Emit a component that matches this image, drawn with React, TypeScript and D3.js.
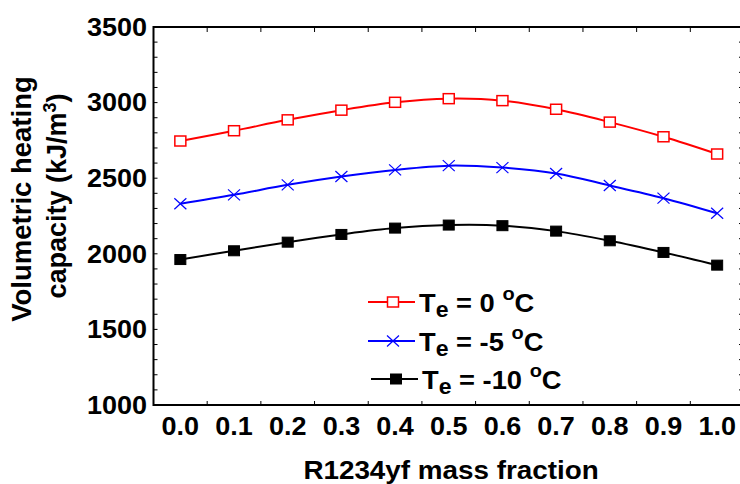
import React from "react";
import * as d3 from "d3";

const massFractions = [0.0, 0.1, 0.2, 0.3, 0.4, 0.5, 0.6, 0.7, 0.8, 0.9, 1.0];
const te0 = [2746, 2814, 2886, 2950, 3002, 3026, 3013, 2956, 2871, 2774, 2660];
const teM5 = [2331, 2390, 2456, 2511, 2555, 2583, 2570, 2531, 2452, 2368, 2268];
const teM10 = [1962, 2020, 2077, 2128, 2170, 2190, 2186, 2150, 2086, 2009, 1925];
const xTickLabels = ["0.0", "0.1", "0.2", "0.3", "0.4", "0.5", "0.6", "0.7", "0.8", "0.9", "1.0"];
const yTickLabels = [1000, 1500, 2000, 2500, 3000, 3500];
const legendTemps = ["0", "-5", "-10"];

const W = 740;
const H = 484;
const FONT = "'Liberation Sans', Arial, sans-serif";

const x = d3.scaleLinear().domain([-0.05, 1.05]).range([153.5, 744]);
const y = d3.scaleLinear().domain([1000, 3500]).range([405, 27]);

const line = d3
  .line<number>()
  .x((_, i) => x(massFractions[i]))
  .y((d) => y(d))
  .curve(d3.curveCatmullRom);

type Series = { values: number[]; color: string; marker: "openSquare" | "cross" | "filledSquare"; temp: string };
const series: Series[] = [
  { values: te0, color: "#ff0000", marker: "openSquare", temp: legendTemps[0] },
  { values: teM5, color: "#0000ff", marker: "cross", temp: legendTemps[1] },
  { values: teM10, color: "#000000", marker: "filledSquare", temp: legendTemps[2] },
];

function Marker({ cx, cy, type, color }: { cx: number; cy: number; type: string; color: string }) {
  if (type === "openSquare") {
    return <rect x={cx - 5.5} y={cy - 5} width={11} height={10} fill="#fff" stroke={color} strokeWidth={1.5} />;
  }
  if (type === "filledSquare") {
    return <rect x={cx - 5.5} y={cy - 5} width={11} height={10} fill={color} stroke={color} strokeWidth={1} />;
  }
  return (
    <g stroke={color} strokeWidth={1.2}>
      <line x1={cx - 6} y1={cy - 5.5} x2={cx + 6} y2={cy + 5.5} />
      <line x1={cx - 6} y1={cy + 5.5} x2={cx + 6} y2={cy - 5.5} />
    </g>
  );
}

function SText({ x: tx, y: ty, anchor, size, sx, children }: any) {
  return (
    <g transform={`translate(${tx},${ty}) scale(${sx},1)`}>
      <text textAnchor={anchor} fontSize={size} fontWeight="bold" fontFamily={FONT} fill="#000">
        {children}
      </text>
    </g>
  );
}

export default function App() {
  const minorY = d3.range(1000, 3501, 100);
  const xTicks = d3.range(0.05, 1.0, 0.1);
  const legendY = [302, 341, 379];
  return (
    <svg width={W} height={H} style={{ position: "absolute", left: 0, top: 0, background: "#fff" }}>
      <rect x={0} y={0} width={W} height={H} fill="#fff" />
      {/* frame */}
      <rect x={x(-0.05)} y={y(3500)} width={x(1.05) - x(-0.05)} height={y(1000) - y(3500)} fill="none" stroke="#000" strokeWidth={2} />
      {/* y ticks */}
      {minorY.map((v) => (
        <g key={"yt" + v} stroke="#000" strokeWidth={1}>
          <line x1={x(-0.05)} x2={x(-0.05) + 4} y1={y(v)} y2={y(v)} />
          <line x1={x(1.05)} x2={x(1.05) - 5} y1={y(v)} y2={y(v)} />
        </g>
      ))}
      {/* x ticks */}
      {xTicks.map((v) => (
        <g key={"xt" + v} stroke="#000" strokeWidth={1}>
          <line x1={x(v)} x2={x(v)} y1={y(1000)} y2={y(1000) - 4} />
          <line x1={x(v)} x2={x(v)} y1={y(3500)} y2={y(3500) + 5} />
        </g>
      ))}
      {/* y tick labels */}
      {yTickLabels.map((v) => (
        <SText key={"yl" + v} x={147} y={y(v) + 8.8} anchor="end" size={25} sx={1.08}>
          {String(v)}
        </SText>
      ))}
      {/* x tick labels */}
      {massFractions.map((v, i) => (
        <SText key={"xl" + v} x={x(v)} y={435} anchor="middle" size={25} sx={1.08}>
          {xTickLabels[i]}
        </SText>
      ))}
      {/* axis titles */}
      <SText x={451} y={479} anchor="middle" size={26.5} sx={1.05}>
        R1234yf mass fraction
      </SText>
      <g transform="translate(31,199) rotate(-90)">
        <text textAnchor="middle" fontSize={27.5} fontWeight="bold" fontFamily={FONT}>
          Volumetric heating
        </text>
      </g>
      <g transform="translate(66,196) rotate(-90)">
        <text textAnchor="middle" fontSize={27} fontWeight="bold" fontFamily={FONT}>
          capacity (kJ/m<tspan dy={-10} fontSize={18}>3</tspan>
          <tspan dy={10}>)</tspan>
        </text>
      </g>
      {/* series */}
      {series.map((s) => (
        <g key={s.temp}>
          <path d={line(s.values) || ""} fill="none" stroke={s.color} strokeWidth={2} />
          {s.values.map((v, i) => (
            <Marker key={i} cx={x(massFractions[i])} cy={y(v)} type={s.marker} color={s.color} />
          ))}
        </g>
      ))}
      {/* legend */}
      {series.map((s, i) => (
        <g key={"lg" + s.temp}>
          <line x1={i === 2 ? 371 : 368} x2={i === 2 ? 418 : 415} y1={legendY[i]} y2={legendY[i]} stroke={s.color} strokeWidth={2} />
          <Marker cx={i === 2 ? 396 : 393} cy={legendY[i]} type={s.marker} color={s.color} />
          <SText x={i === 2 ? 422 : 419} y={legendY[i] + 10} anchor="start" size={26} sx={1.05}>
            T<tspan dy={5} fontSize={22}>e</tspan>
            <tspan dy={-5}>{` = ${s.temp} `}</tspan>
            <tspan dy={-12} fontSize={19}>o</tspan>
            <tspan dy={12}>C</tspan>
          </SText>
        </g>
      ))}
    </svg>
  );
}
